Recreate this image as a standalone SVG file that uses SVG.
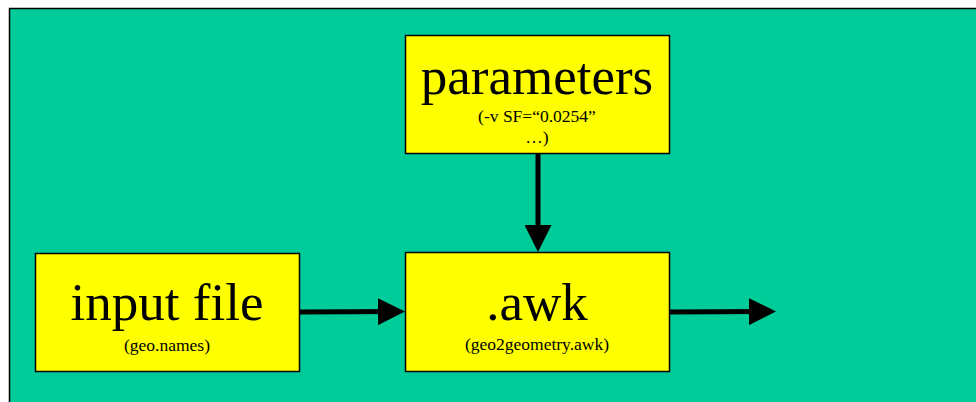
<svg xmlns="http://www.w3.org/2000/svg" width="976" height="402" viewBox="0 0 976 402">
<style>
.box{fill:#ffff00;stroke:#000;stroke-width:1.5}
.big{font-family:"Liberation Serif",serif;font-size:53px;text-anchor:middle;fill:#000}
.small{font-family:"Liberation Serif",serif;font-size:17.5px;text-anchor:middle;fill:#000}
.conn{stroke:#000;stroke-width:5;fill:none}
</style>
<defs>
<marker id="ah" markerWidth="5.4" markerHeight="5.4" refX="4.4" refY="2.7" orient="auto" markerUnits="strokeWidth">
<path d="M0,0 L5.4,2.7 L0,5.4 z" fill="#000"/>
</marker>
</defs>
<rect x="0" y="0" width="976" height="402" fill="#fff"/>
<rect x="9.5" y="8.5" width="980" height="400" fill="#00cc99" stroke="#000" stroke-width="1.5"/>
<g id="connectors">
<line class="conn" x1="538" y1="153" x2="538" y2="247" marker-end="url(#ah)"/>
<line class="conn" x1="299" y1="312" x2="400" y2="311.5" marker-end="url(#ah)"/>
<line class="conn" x1="669" y1="312" x2="771" y2="311.5" marker-end="url(#ah)"/>
</g>
<g id="parameters">
<rect class="box" x="405.5" y="35.5" width="264" height="118"/>
<text class="big" x="537" y="94">parameters</text>
<text class="small" x="537" y="122">(-v SF=“0.0254”</text>
<text class="small" x="537" y="143">…)</text>
</g>
<g id="input">
<rect class="box" x="35.5" y="253.5" width="264" height="118"/>
<text class="big" x="167" y="320">input file</text>
<text class="small" x="167" y="351">(geo.names)</text>
</g>
<g id="awk">
<rect class="box" x="405.5" y="252.5" width="264" height="119"/>
<text class="big" x="537" y="320">.awk</text>
<text class="small" x="537" y="350">(geo2geometry.awk)</text>
</g>
</svg>
